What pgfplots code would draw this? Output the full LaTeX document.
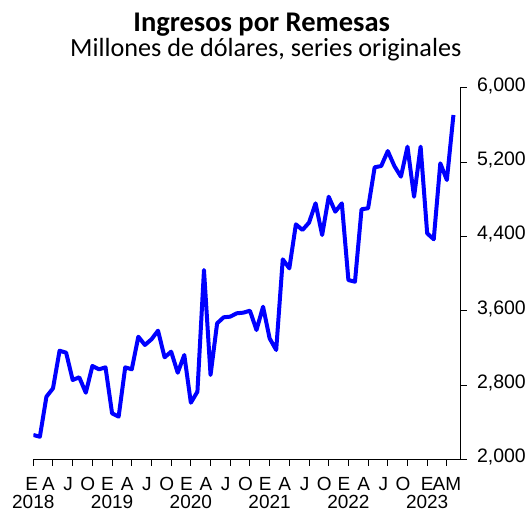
\documentclass[border=0pt]{standalone}
\usepackage{fontspec}
\setmainfont{Liberation Sans}
\newfontfamily\calibri{Carlito}
\usepackage{pgfplots}
\pgfplotsset{compat=1.18}
\begin{document}
\begin{tikzpicture}
\useasboundingbox (0,0) rectangle (530bp,513bp);
\node[anchor=base,font=\calibri\bfseries\fontsize{28.5bp}{32bp}\selectfont] at (261.7bp,481.3bp) {Ingresos por Remesas};
\node[anchor=base,font=\calibri\fontsize{26.2bp}{30bp}\selectfont] at (265.8bp,456.3bp) {Millones de dólares, series originales};
\begin{axis}[
  at={(33.3bp,53.7bp)}, anchor=south west,
  scale only axis, width=426.7bp, height=371.5bp,
  xmin=0, xmax=65, ymin=2000, ymax=6000,
  axis x line*=bottom, axis y line*=right,
  tick align=outside, major tick length=6.5bp,
  axis line style={line width=1bp},
  tick style={line width=1bp, black},
  ytick={2000,2800,3600,4400,5200,6000},
  yticklabel style={font=\fontsize{19.5bp}{21bp}\selectfont, xshift=7bp, yshift=2bp, /pgf/number format/.cd, fixed, 1000 sep={,}, assume math mode=true},
  xtick={0,3,...,63},
  xticklabels={\hspace*{-3bp}E\\2018,\hspace*{-9bp}A,\hspace*{-9bp}J,\hspace*{-9bp}O,
               \hspace*{-9bp}E\\2019,\hspace*{-9bp}A,\hspace*{-9bp}J,\hspace*{-9bp}O,
               \hspace*{-9bp}E\\2020,\hspace*{-9bp}A,\hspace*{-9bp}J,\hspace*{-9bp}O,
               \hspace*{-9bp}E\\2021,\hspace*{-9bp}A,\hspace*{-9bp}J,\hspace*{-9bp}O,
               \hspace*{-9bp}E\\2022,\hspace*{-9bp}A,\hspace*{-9bp}J,\hspace*{-9bp}O,
               E\\2023,AM},
  xticklabel style={font=\fontsize{19bp}{18.5bp}\selectfont, align=center, anchor=north, inner sep=0.5bp, yshift=-10.5bp},
]
\addplot[color={rgb,255:red,0;green,0;blue,255}, line width=4bp, line join=round, mark=none] coordinates {
(0,2262)(1,2243)(2,2674)(3,2764)(4,3169)(5,3148)(6,2854)(7,2883)(8,2717)(9,3005)(10,2969)(11,2990)
(12,2495)(13,2459)(14,2990)(15,2969)(16,3320)(17,3231)(18,3292)(19,3385)(20,3098)(21,3159)(22,2932)(23,3123)
(24,2609)(25,2728)(26,4038)(27,2908)(28,3464)(29,3529)(30,3536)(31,3572)(32,3579)(33,3600)(34,3392)(35,3643)
(36,3302)(37,3177)(38,4153)(39,4056)(40,4530)(41,4469)(42,4548)(43,4756)(44,4415)(45,4827)(46,4666)(47,4756)
(48,3930)(49,3912)(50,4692)(51,4703)(52,5144)(53,5158)(54,5319)(55,5158)(56,5043)(57,5366)(58,4827)(59,5366)
(60,4433)(61,4369)(62,5187)(63,5007)(64,5707)
};
\end{axis}
\end{tikzpicture}
\end{document}
